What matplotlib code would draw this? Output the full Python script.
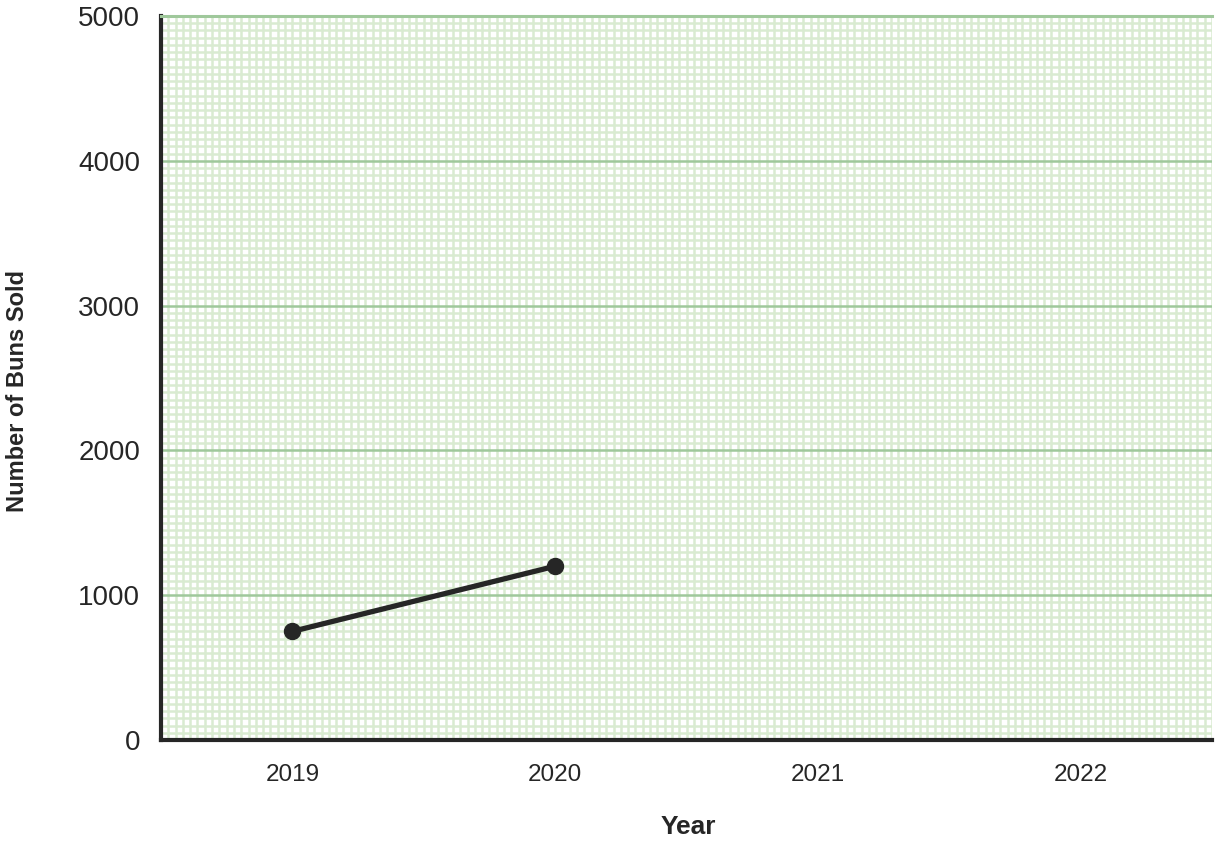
import numpy as np
import matplotlib
matplotlib.use("Agg")
import matplotlib.pyplot as plt
from matplotlib.ticker import MultipleLocator

years = ["2019", "2020", "2021", "2022"]
buns_sold = [750, 1200]

plt.rcParams['font.family'] = ['Liberation Sans', 'DejaVu Sans']

fig = plt.figure(figsize=(12.2, 8.42), dpi=100)
ax = fig.add_axes([161 / 1220, 1 - 740 / 842, (1212 - 161) / 1220, (740 - 16) / 842])

ax.set_xlim(-0.5, len(years) - 0.5)
ax.set_ylim(0, 5000)

# graph paper grid
minor_col = '#d9ebd1'
major_col = '#9fc89b'
ax.xaxis.set_minor_locator(MultipleLocator(1 / 36))
ax.yaxis.set_minor_locator(MultipleLocator(50))
ax.grid(which='minor', color=minor_col, linewidth=1.8)
ax.grid(which='major', axis='x', color=minor_col, linewidth=1.8)
ax.grid(which='major', axis='y', color=major_col, linewidth=1.8)
ax.set_axisbelow(True)

ax.plot(range(len(buns_sold)), buns_sold, color='#262626', linewidth=3.8,
        marker='o', markersize=11.5, zorder=5)

ax.set_xticks(range(len(years)))
ax.set_xticklabels(years)
ax.set_yticks([0, 1000, 2000, 3000, 4000, 5000])
ax.tick_params(which='both', length=0)
ax.tick_params(axis='x', labelsize=17.5, pad=17, colors='#262626')
ax.tick_params(axis='y', labelsize=20, pad=15, colors='#262626')

ax.spines['right'].set_visible(False)
ax.spines['top'].set_color(major_col)
ax.spines['top'].set_linewidth(2.2)
ax.spines['left'].set_color('#262626')
ax.spines['left'].set_linewidth(3)
ax.spines['bottom'].set_color('#262626')
ax.spines['bottom'].set_linewidth(3)

fig.text(688 / 1220, 1 - 827 / 842, "Year", fontsize=19, fontweight='bold',
         color='#262626', ha='center', va='center')
fig.text(18 / 1220, 1 - 391 / 842, "Number of Buns Sold", fontsize=17, fontweight='bold',
         color='#262626', ha='center', va='center', rotation=90)

fig.savefig("out.png", dpi=100)
